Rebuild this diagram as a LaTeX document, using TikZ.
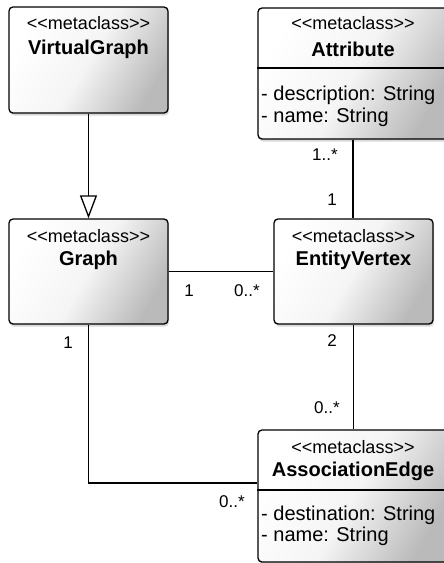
\documentclass[tikz,border=0pt]{standalone}
\usepackage{fontspec}
\setmainfont{Liberation Sans}
\usetikzlibrary{positioning,shadows,arrows.meta}

\newcommand{\metaname}{<{}<metaclass>{}>}

\tikzset{
  classbox/.style={draw, line width=1.3pt, rounded corners=4pt,
    top color=white, bottom color=black!27, middle color=black!4, shading angle=60,
    drop shadow={shadow xshift=1pt, shadow yshift=-2.5pt, opacity=0.3}},
  stereo/.style={inner sep=0pt, font=\fontsize{18}{21}\selectfont},
  classname/.style={inner sep=0pt, font=\fontsize{20}{24}\selectfont\bfseries},
  attrib/.style={inner sep=0pt, anchor=west, font=\fontsize{20}{24}\selectfont},
  mult/.style={inner sep=0pt, font=\fontsize{17}{20}\selectfont},
  link/.style={line width=1.4pt}
}

\begin{document}
\begin{tikzpicture}[x=1pt, y=-1pt]
  \useasboundingbox (0,0) rectangle (444,563);
  \clip (0,0) rectangle (444,563);

  % class boxes
  \node[classbox, minimum width=159pt, minimum height=106pt] (vgraph) at (88.5,60) {};
  \node[classbox, minimum width=190pt, minimum height=131pt] (attr) at (353,73.5) {};
  \node[classbox, minimum width=159pt, minimum height=105pt] (graph) at (88.5,271.5) {};
  \node[classbox, minimum width=159pt, minimum height=105pt] (evertex) at (353.5,271.5) {};
  \node[classbox, minimum width=190pt, minimum height=132pt] (assoc) at (353,496) {};

  % headers
  \node[stereo] (vgraph-st) at ([yshift=-17pt]vgraph.north) {\metaname};
  \node[classname] (vgraph-nm) at ([yshift=-43pt]vgraph.north) {VirtualGraph};
  \node[stereo] (attr-st) at ([yshift=-16pt]attr.north) {\metaname};
  \node[classname] (attr-nm) at ([yshift=-42pt]attr.north) {Attribute};
  \node[stereo] (graph-st) at ([yshift=-18pt]graph.north) {\metaname};
  \node[classname] (graph-nm) at ([yshift=-42pt]graph.north) {Graph};
  \node[stereo] (evertex-st) at ([yshift=-18pt]evertex.north) {\metaname};
  \node[classname] (evertex-nm) at ([yshift=-42pt]evertex.north) {EntityVertex};
  \node[stereo] (assoc-st) at ([yshift=-18pt]assoc.north) {\metaname};
  \node[classname] (assoc-nm) at ([yshift=-42pt]assoc.north) {AssociationEdge};

  % attribute compartments
  \draw[link] (attr.west |- 0,68) -- (attr.east |- 0,68);
  \node[attrib] (attr-a1) at (261,95) {- description: String};
  \node[attrib] (attr-a2) at (261,117) {- name: String};
  \draw[link] (assoc.west |- 0,490) -- (assoc.east |- 0,490);
  \node[attrib] (assoc-a1) at (261,515) {- destination: String};
  \node[attrib] (assoc-a2) at (261,536) {- name: String};

  % relations
  \draw[link, -{Triangle[open, length=23pt, width=17pt, line width=1.3pt]}] (vgraph.south) -- (graph.north);
  \draw[link] (attr.south) -- (attr.south |- evertex.north);
  \draw[link] (graph.east) -- (evertex.west);
  \draw[link] (evertex.south) -- (evertex.south |- assoc.north);
  \draw[link] (graph.south) |- ([yshift=13pt]assoc.west);

  % multiplicities
  \node[mult] (m-attr) at (325,155) {1..*};
  \node[mult] (m-ev-top) at (332,200) {1};
  \node[mult] (m-graph-r) at (189,291) {1};
  \node[mult] (m-ev-l) at (247,291) {0..*};
  \node[mult] (m-graph-b) at (68,343) {1};
  \node[mult] (m-ev-b) at (332,341) {2};
  \node[mult] (m-assoc-t) at (327,408) {0..*};
  \node[mult] (m-assoc-l) at (232,502) {0..*};
\end{tikzpicture}
\end{document}
